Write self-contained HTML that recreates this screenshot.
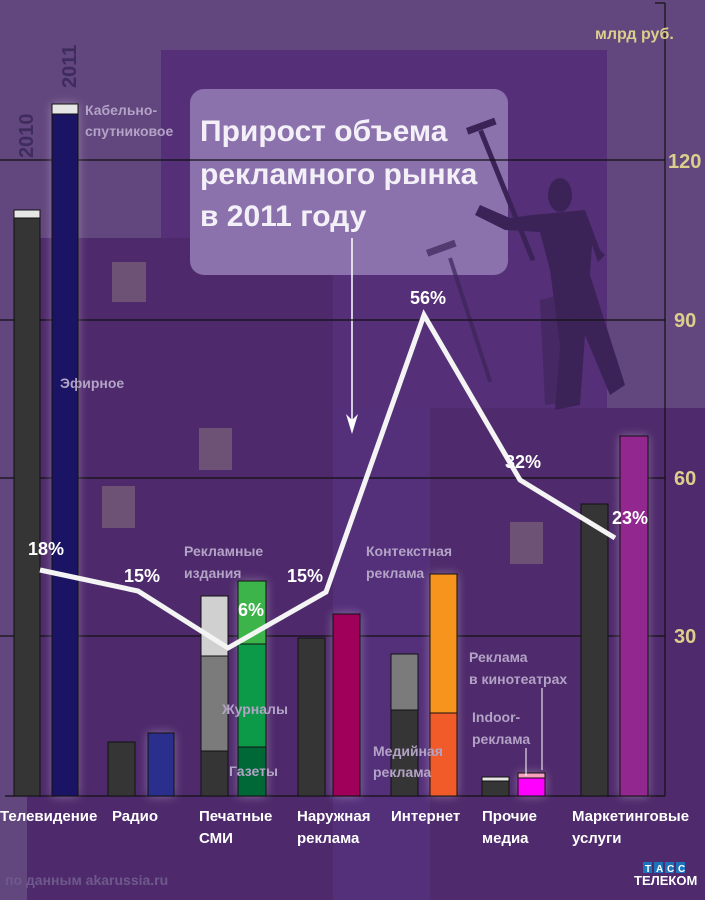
<!DOCTYPE html>
<html><head><meta charset="utf-8"><style>
html,body{margin:0;padding:0;background:#62467e}
svg{display:block}
text{font-family:"Liberation Sans Narrow","Liberation Sans","DejaVu Sans",sans-serif;font-weight:bold}
</style></head><body>
<svg width="705" height="900" viewBox="0 0 705 900" xmlns="http://www.w3.org/2000/svg">
<defs>
<filter id="g" x="-50%" y="-10%" width="200%" height="120%"><feGaussianBlur stdDeviation="5"/></filter>
</defs>
<rect width="705" height="900" fill="#62467e"/>
<rect x="161" y="50" width="446" height="360" fill="#553079"/>
<rect x="40" y="238" width="293" height="662" fill="#4e2a6c"/>
<rect x="27" y="560" width="306" height="340" fill="#4e2a6c"/>
<rect x="333" y="408" width="97" height="492" fill="#55307a"/>
<rect x="430" y="408" width="275" height="492" fill="#4f2a6c"/>
<rect x="190" y="89" width="318" height="186" rx="14" fill="#8b72ad"/>
<!-- silhouette -->
<g fill="#3c2357">
<ellipse cx="560" cy="195" rx="12" ry="17"/>
<path d="M532 215 L585 210 L600 250 L605 255 L598 262 L592 245 L590 275 L625 385 L610 395 L585 335 L580 405 L555 410 L560 345 L550 270 L540 232 L505 230 L475 215 L480 205 L510 218 Z"/>
<rect x="478" y="130" width="5" height="140" transform="rotate(-22 482 130)"/>
<rect x="466" y="128" width="30" height="7" transform="rotate(-20 466 128)"/>
<path d="M540 300 L560 295 L575 330 L580 400 L545 405 Z" opacity="0.6"/>
<rect x="448" y="258" width="4" height="130" transform="rotate(-18 450 258)" opacity="0.7"/>
<rect x="426" y="250" width="30" height="7" transform="rotate(-20 426 250)" opacity="0.7"/>
</g>
<!-- small squares -->
<g fill="#6e5276">
<rect x="112" y="262" width="34" height="40"/>
<rect x="199" y="428" width="33" height="42"/>
<rect x="102" y="486" width="33" height="42"/>
<rect x="510" y="522" width="33" height="42"/>
</g>
<!-- title -->
<g fill="#f4f0f8" font-size="30">
<text x="200" y="141">Прирост объема</text>
<text x="200" y="184">рекламного рынка</text>
<text x="200" y="226">в 2011 году</text>
</g>
<line x1="352" y1="238" x2="352" y2="428" stroke="#fff" stroke-width="1.5"/>
<path d="M346 414 L352 434 L358 414 L352 420 Z" fill="#fff"/>
<!-- grid -->
<g stroke="#111" stroke-width="1.2">
<line x1="0" y1="160" x2="665" y2="160"/>
<line x1="0" y1="320" x2="665" y2="320"/>
<line x1="0" y1="478" x2="665" y2="478"/>
<line x1="0" y1="636" x2="665" y2="636"/>
<line x1="5" y1="796" x2="665" y2="796"/>
<line x1="665" y1="3" x2="665" y2="796"/>
<line x1="655" y1="3" x2="665" y2="3"/>
</g>
<g fill="#dccf8c" font-size="20">
<text x="668" y="168">120</text>
<text x="674" y="327">90</text>
<text x="674" y="485">60</text>
<text x="674" y="643">30</text>
</g>
<text x="595" y="39" fill="#dccf8c" font-size="16">млрд руб.</text>
<text transform="translate(33,158) rotate(-90)" fill="#3e2c5c" font-size="20">2010</text>
<text transform="translate(76,88) rotate(-90)" fill="#3e2c5c" font-size="20">2011</text>
<!-- glows -->
<g fill="#fff" opacity="0.35" filter="url(#g)">
<rect x="52" y="104" width="26" height="692"/>
<rect x="148" y="733" width="26" height="63"/>
<rect x="238" y="581" width="28" height="215"/>
<rect x="333" y="614" width="27" height="182"/>
<rect x="430" y="574" width="27" height="222"/>
<rect x="518" y="773" width="27" height="23"/>
<rect x="620" y="436" width="28" height="360"/>
</g>
<!-- bars -->
<g stroke="#111" stroke-width="1">
<rect x="14" y="210" width="26" height="586" fill="#353535"/>
<rect x="14" y="210" width="26" height="8" fill="#e6e6e6"/>
<rect x="52" y="104" width="26" height="692" fill="#1b1464"/>
<rect x="52" y="104" width="26" height="10" fill="#e6e6e6"/>
<rect x="108" y="742" width="27" height="54" fill="#353535"/>
<rect x="148" y="733" width="26" height="63" fill="#2a2e8c"/>
<rect x="201" y="596" width="27" height="60" fill="#d0d0d0"/>
<rect x="201" y="656" width="27" height="95" fill="#7b7b7b"/>
<rect x="201" y="751" width="27" height="45" fill="#353535"/>
<rect x="238" y="581" width="28" height="63" fill="#3cb44a"/>
<rect x="238" y="644" width="28" height="103" fill="#0d9a48"/>
<rect x="238" y="747" width="28" height="49" fill="#006837"/>
<rect x="298" y="638" width="27" height="158" fill="#353535"/>
<rect x="333" y="614" width="27" height="182" fill="#a0005a"/>
<rect x="391" y="654" width="27" height="56" fill="#7b7b7b"/>
<rect x="391" y="710" width="27" height="86" fill="#353535"/>
<rect x="430" y="574" width="27" height="139" fill="#f7941d"/>
<rect x="430" y="713" width="27" height="83" fill="#f15a29"/>
<rect x="482" y="777" width="27" height="19" fill="#353535"/>
<rect x="482" y="777" width="27" height="4" fill="#e6e6e6"/>
<rect x="518" y="773" width="27" height="23" fill="#ff00ff"/>
<rect x="518" y="773" width="27" height="5" fill="#f9a0c0"/>
<rect x="581" y="504" width="27" height="292" fill="#353535"/>
<rect x="620" y="436" width="28" height="360" fill="#92278f"/>
</g>
<line x1="526" y1="748" x2="526" y2="776" stroke="#fff"/>
<line x1="542" y1="688" x2="542" y2="770" stroke="#fff"/>
<!-- line -->
<polyline points="40,570 138,591 228,648 326,592 424,315 520,480 615,538" fill="none" stroke="#f4f4f4" stroke-width="5"/>
<g fill="#fff" font-size="18">
<text x="28" y="555">18%</text>
<text x="124" y="582">15%</text>
<text x="238" y="616">6%</text>
<text x="287" y="582">15%</text>
<text x="410" y="304">56%</text>
<text x="505" y="468">32%</text>
<text x="612" y="524">23%</text>
</g>
<!-- annotations -->
<g fill="#b3a3c6" font-size="14">
<text x="85" y="115">Кабельно-</text>
<text x="85" y="136">спутниковое</text>
<text x="60" y="388">Эфирное</text>
<text x="184" y="556">Рекламные</text>
<text x="184" y="578">издания</text>
<text x="222" y="714">Журналы</text>
<text x="229" y="776">Газеты</text>
<text x="373" y="756">Медийная</text>
<text x="373" y="777">реклама</text>
<text x="366" y="556">Контекстная</text>
<text x="366" y="578">реклама</text>
<text x="469" y="662">Реклама</text>
<text x="469" y="684">в кинотеатрах</text>
<text x="472" y="722">Indoor-</text>
<text x="472" y="744">реклама</text>
</g>
<g fill="#fff" font-size="15">
<text x="0" y="821">Телевидение</text>
<text x="112" y="821">Радио</text>
<text x="199" y="821">Печатные</text>
<text x="199" y="843">СМИ</text>
<text x="297" y="821">Наружная</text>
<text x="297" y="843">реклама</text>
<text x="391" y="821">Интернет</text>
<text x="482" y="821">Прочие</text>
<text x="482" y="843">медиа</text>
<text x="572" y="821">Маркетинговые</text>
<text x="572" y="843">услуги</text>
</g>
<text x="5" y="885" fill="#6e5a8a" font-size="14">по данным akarussia.ru</text>
<g>
<rect x="643" y="862" width="9" height="11" fill="#1c75bc"/>
<rect x="654" y="862" width="9" height="11" fill="#1c75bc"/>
<rect x="665" y="862" width="9" height="11" fill="#1c75bc"/>
<rect x="676" y="862" width="9" height="11" fill="#1c75bc"/>
<text x="645" y="872" fill="#fff" font-size="10">Т</text>
<text x="656" y="872" fill="#fff" font-size="10">А</text>
<text x="667" y="872" fill="#fff" font-size="10">С</text>
<text x="678" y="872" fill="#fff" font-size="10">С</text>
<text x="634" y="885" fill="#fff" font-size="13">ТЕЛЕКОМ</text>
</g>
</svg>
</body></html>
